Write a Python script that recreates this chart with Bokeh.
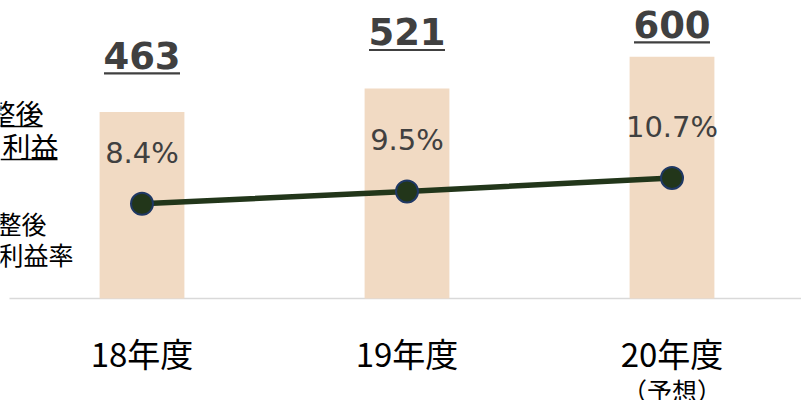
from bokeh.plotting import figure
from bokeh.models import Range1d, Label
from bokeh.core.properties import value
from bokeh.embed import file_html
from bokeh.resources import INLINE

# ---- data ----
categories = ["18年度", "19年度", "20年度"]
sub_labels = ["", "", "（予想）"]
profit = [463, 521, 600]          # 調整後営業利益
margin = [8.4, 9.5, 10.7]         # 調整後営業利益率 (%)
profit_labels = [str(v) for v in profit]
margin_labels = [f"{v}%" for v in margin]

# ---- layout (page pixels) ----
W, H = 801, 400
BASE_PX = 298                      # page y of the zero line
PX_PER_UNIT = 0.403                # primary axis pixel scale
PX_PER_PCT = 11.27                 # secondary axis pixel scale
CAT_PX = 265.0                     # pixels per category
X0_PAGE = 141.5                    # page x of first category

X_START = (0 - X0_PAGE) / CAT_PX
X_END = (W - X0_PAGE) / CAT_PX


def px_x(page_x):
    return (page_x - X0_PAGE) / CAT_PX


def px_y(page_y):
    return (BASE_PX - page_y) / PX_PER_UNIT


xs = list(range(len(categories)))

p = figure(width=W, height=H, output_backend="svg", toolbar_location=None,
           x_range=Range1d(X_START, X_END),
           y_range=Range1d(px_y(H), px_y(0)),
           x_axis_location=None, y_axis_location=None, tools="")
p.extra_y_ranges = {"pct": Range1d(-(H - BASE_PX) / PX_PER_PCT, BASE_PX / PX_PER_PCT)}
p.min_border_left = 0
p.min_border_right = 0
p.min_border_top = 0
p.min_border_bottom = 0
p.outline_line_color = None
p.xgrid.visible = False
p.ygrid.visible = False
p.background_fill_color = "white"
p.border_fill_color = "white"

# baseline (category axis line)
p.segment(x0=[px_x(9)], x1=[X_END], y0=[0], y1=[0], line_color="#D9D9D9", line_width=1.5)

# bars
p.vbar(x=xs, top=profit, width=0.32, bottom=0, fill_color="#F1DAC3", line_color=None)

# line with markers
p.line(xs, margin, y_range_name="pct", line_color="#22361A", line_width=5.5)
p.scatter(xs, margin, y_range_name="pct", size=22, fill_color="#22361A",
          line_color="#1F3864", line_width=2)

# percentage labels
p.text(x=xs, y=[m + 4.55 for m in margin], text=margin_labels, y_range_name="pct",
       text_font=value("DejaVu Sans"), text_font_size="29px", text_color="#404040",
       text_align="center", text_baseline="middle")

# value labels (bold, underlined)
LABEL_CAP = 681
label_y = [min(v + 141, LABEL_CAP) for v in profit]
p.text(x=xs, y=label_y, text=profit_labels,
       text_font=value("DejaVu Sans"), text_font_size="37px", text_font_style="bold",
       text_color="#404040", text_align="center", text_baseline="middle")
half_u = 38 / CAT_PX
ul_y = [y - 18.3 / PX_PER_UNIT for y in label_y]
p.segment(x0=[x - half_u for x in xs], x1=[x + half_u for x in xs],
          y0=ul_y, y1=ul_y, line_color="#404040", line_width=2.2)

# category labels
p.text(x=xs, y=[px_y(352)] * len(xs), text=categories,
       text_font=value("Noto Sans CJK JP"), text_font_size="33px", text_color="#000000",
       text_align="center", text_baseline="middle")
p.text(x=xs, y=[px_y(389)] * len(xs), text=sub_labels,
       text_font=value("Noto Sans CJK JP"), text_font_size="25px", text_color="#000000",
       text_align="center", text_baseline="middle")

# left-side series labels (clipped at the canvas edge as in the reference)
left1 = [("整後", 112.5, 43), ("利益", 145, 58)]
for t, py, rx in left1:
    p.add_layout(Label(x=px_x(rx), y=px_y(py), text=t, text_align="right",
                       text_baseline="middle", text_font="Noto Sans CJK JP",
                       text_font_size="28px", text_color="#000000"))
p.segment(x0=[X_START, X_START], x1=[px_x(42), px_x(57)],
          y0=[px_y(126), px_y(159)], y1=[px_y(126), px_y(159)],
          line_color="#000000", line_width=1.5)

left2 = [("整後", 222, 46), ("利益率", 253, 73)]
for t, py, rx in left2:
    p.add_layout(Label(x=px_x(rx), y=px_y(py), text=t, text_align="right",
                       text_baseline="middle", text_font="Noto Sans CJK JP",
                       text_font_size="25px", text_color="#000000"))

open("out.html", "w").write(file_html(p, INLINE))
